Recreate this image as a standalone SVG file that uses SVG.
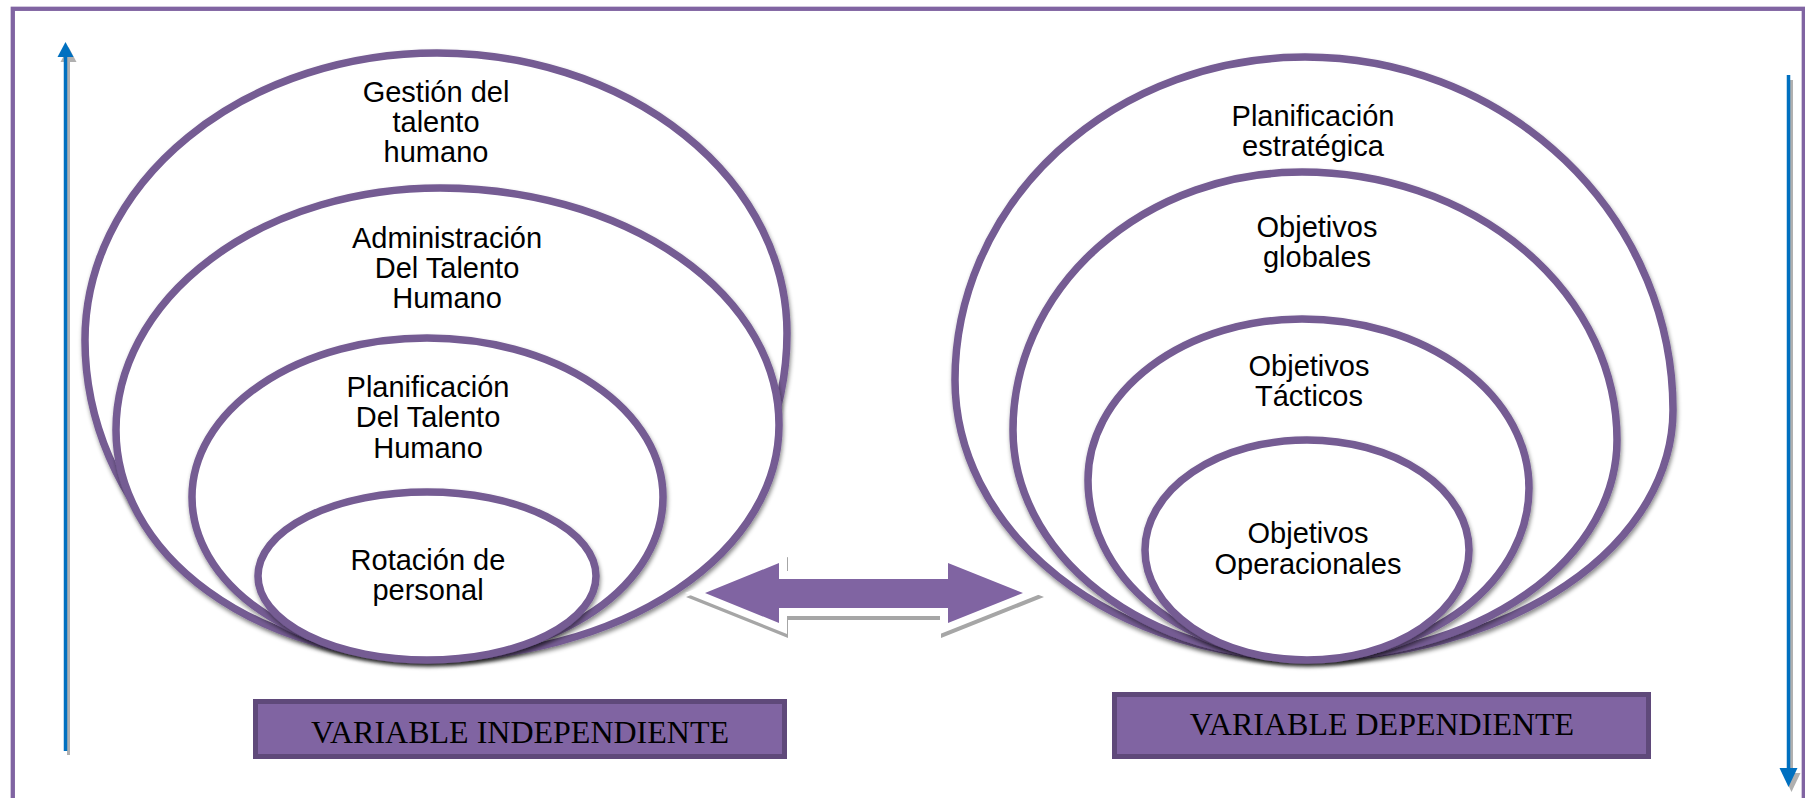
<svg xmlns="http://www.w3.org/2000/svg" width="1805" height="798" viewBox="0 0 1805 798">
<defs>
<style>
.ring{fill:#fff;stroke:#745B93;stroke-width:7.5;filter:url(#sh)}
.lbl{font-family:"Liberation Sans",Arial,sans-serif;font-size:29px;fill:#000;text-anchor:middle}
.box{fill:#8064A2;stroke:#5F497A;stroke-width:5}
.boxt{font-family:"Liberation Serif","Times New Roman",serif;font-size:32px;fill:#000;text-anchor:middle}
.blue{stroke:#0070C0;stroke-width:3.5;fill:none}
.bluehead{fill:#0070C0}
.gray{stroke:#B0B0B0;stroke-width:3;fill:none}
.grayhead{fill:#B0B0B0}
</style>
<filter id="sh" x="-10%" y="-10%" width="120%" height="125%">
<feDropShadow dx="1" dy="3" stdDeviation="2" flood-color="#000" flood-opacity="0.45"/>
</filter>
</defs>
<rect x="12.8" y="8.8" width="1791" height="800" fill="#fff" stroke="#8064A2" stroke-width="4.3"/>
<g id="connectors">
<g id="arrow-up">
<line class="gray" x1="68.5" y1="62" x2="68.5" y2="755"/>
<polygon class="grayhead" points="68.5,47 76.5,62 60.5,62"/>
<line class="blue" x1="65.5" y1="56" x2="65.5" y2="751"/>
<polygon class="bluehead" points="65.5,42 73.5,57 57.5,57"/>
</g>
<g id="arrow-down">
<line class="gray" x1="1791.5" y1="80" x2="1791.5" y2="770"/>
<polygon class="grayhead" points="1782.5,773 1800.5,773 1791.5,792"/>
<line class="blue" x1="1788.5" y1="75" x2="1788.5" y2="770"/>
<polygon class="bluehead" points="1779.5,768 1797.5,768 1788.5,787"/>
</g>
</g>
<g id="left-group">
<g id="n-gestion">
<path class="ring" d="M437,53 A350,280 0 0 1 787,333 A357,325 0 0 1 430,658 A345,318 0 0 1 85,340 A352,287 0 0 1 437,53 Z"/>
<text class="lbl" x="436" y="102">Gestión del</text>
<text class="lbl" x="436" y="132">talento</text>
<text class="lbl" x="436" y="162">humano</text>
</g>
<g id="n-administracion">
<path class="ring" d="M440,188 A339,237 0 0 1 779,425 A349,233 0 0 1 430,658 A314,228 0 0 1 116,430 A324,242 0 0 1 440,188 Z"/>
<text class="lbl" x="447" y="248">Administración</text>
<text class="lbl" x="447" y="278">Del Talento</text>
<text class="lbl" x="447" y="308">Humano</text>
</g>
<g id="n-planificacion-th">
<path class="ring" d="M427,338 A236,159 0 0 1 663,497 A235,161 0 0 1 428,658 A236,161 0 0 1 192,497 A235,159 0 0 1 427,338 Z"/>
<text class="lbl" x="428" y="397">Planificación</text>
<text class="lbl" x="428" y="427">Del Talento</text>
<text class="lbl" x="428" y="458">Humano</text>
</g>
<g id="n-rotacion">
<ellipse class="ring" cx="427" cy="576" rx="169" ry="84"/>
<text class="lbl" x="428" y="570">Rotación de</text>
<text class="lbl" x="428" y="600">personal</text>
</g>
</g>
<g id="right-group">
<g id="n-planificacion-est">
<path class="ring" d="M1305,57 A368,353 0 0 1 1673,410 A366,248 0 0 1 1307,658 A352,278 0 0 1 955,380 A350,323 0 0 1 1305,57 Z"/>
<text class="lbl" x="1313" y="126">Planificación</text>
<text class="lbl" x="1313" y="156">estratégica</text>
</g>
<g id="n-globales">
<path class="ring" d="M1302,172 A315,268 0 0 1 1617,440 A310,218 0 0 1 1307,658 A294,228 0 0 1 1013,430 A289,258 0 0 1 1302,172 Z"/>
<text class="lbl" x="1317" y="237">Objetivos</text>
<text class="lbl" x="1317" y="267">globales</text>
</g>
<g id="n-tacticos">
<path class="ring" d="M1302,319 A227,169 0 0 1 1529,488 A222,170 0 0 1 1307,658 A219,178 0 0 1 1088,480 A214,161 0 0 1 1302,319 Z"/>
<text class="lbl" x="1309" y="376">Objetivos</text>
<text class="lbl" x="1309" y="406">Tácticos</text>
</g>
<g id="n-operacionales">
<ellipse class="ring" cx="1307" cy="550" rx="162" ry="110"/>
<text class="lbl" x="1308" y="543">Objetivos</text>
<text class="lbl" x="1308" y="574">Operacionales</text>
</g>
</g>
<g id="double-arrow">
<polygon points="686,597 788,557 788,575 941,575 941,557 1044,597 941,638 941,620 788,620 788,638" fill="#A6A6A6"/>
<polygon points="685,593 787,553 787,571 940,571 940,553 1043,593 940,634 940,616 787,616 787,634" fill="#fff"/>
<polygon points="705,593 779,563 779,579 948,579 948,563 1023,593 948,623 948,608 779,608 779,623" fill="#8064A2"/>
</g>
<g id="n-var-indep">
<rect class="box" x="255.5" y="701.5" width="529" height="55"/>
<text class="boxt" x="520" y="743">VARIABLE INDEPENDIENTE</text>
</g>
<g id="n-var-dep">
<rect class="box" x="1114.5" y="694.5" width="534" height="62"/>
<text class="boxt" x="1382" y="735">VARIABLE DEPENDIENTE</text>
</g>
</svg>
